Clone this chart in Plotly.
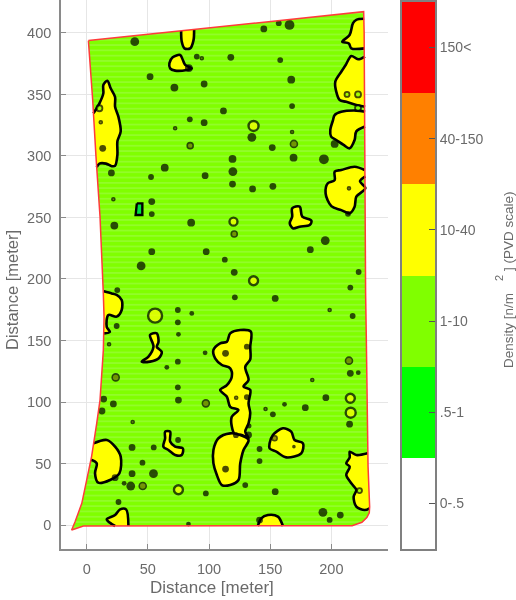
import plotly.graph_objects as go

# ---- colour classes -------------------------------------------------------
class_labels = ["0-.5", ".5-1", "1-10", "10-40", "40-150", "150<"]
class_colors = ["#ffffff", "#00ff00", "#80ff00", "#ffff00", "#ff8000", "#ff0000"]

# ---- tank outline (meters) ------------------------------------------------
outline_x = [1.4, 226.4, 226.8, 227.2, 228, 228.6, 229, 230, 231.3, 231, 229, 225, 217, -2.7, -12.3, -9.5, -4, 0.5, 4, 8.2, 10.9, 13.6, 14.2, 13.6, 10.9, 7.6, 4.9, 1.4]
outline_y = [393.8, 417.3, 400, 291, 188, 150, 101.6, 47.4, 14.9, 10, 6, 2.2, -0.5, -0.8, -4, 2.7, 17.6, 39, 55.6, 82.7, 101.6, 142, 169, 188, 250.7, 299.5, 345.5, 393.8]

# ---- density patches touching the outline (open contour) ------------------
a_x = [77.2, 77.7, 79.9, 84.6, 87.3, 87.8]
a_y = [401.5, 393, 387.5, 387.5, 394, 402.5]
c_x = [5.5, 10.4, 13.6, 13.6, 16.9, 19.6, 23.2, 23.2, 25.9, 27.8, 25.1, 25.1, 23.2, 20.5, 15.8, 10.4, 8.2]
c_y = [334.6, 342.8, 350.9, 357.7, 361.2, 355, 348, 340, 332, 320, 312, 301, 292, 291.7, 293.8, 293.8, 291]
d_x = [226.8, 220.4, 217.7, 214.9, 208.9, 214.3, 216.3, 227.2]
d_y = [411.5, 410.7, 408, 398.3, 392.9, 391.5, 387.5, 387.5]
e_x = [227.5, 221.8, 216.3, 211.7, 208.1, 203.2, 204, 206.8, 212.2, 220.4, 227.6]
e_y = [380.8, 378.6, 381.3, 373.9, 368.5, 360.4, 352.3, 345.5, 344, 341.5, 340]
f_x = [227.6, 220.4, 208.1, 202.7, 201.3, 199.1, 199.8, 204, 210, 214.9, 219, 220.4, 227.5]
f_y = [336, 336.9, 335.9, 333.3, 329, 321, 315.7, 313, 309, 306.2, 313, 320, 324]
g_x = [227.2, 219, 208.1, 202.7, 202.7, 197.1, 195.3, 200, 208.1, 214.9, 219, 220.4, 227.8, 223.4, 227.8]
g_y = [288.6, 291.3, 288.6, 287.3, 280.4, 277.8, 269.5, 259.2, 256, 253.4, 258.8, 266.9, 273.8, 279.5, 283.5]
i_x = [14, 20.5, 24.5, 28.6, 28.6, 24.5, 17.7, 16.4, 19, 14.2]
i_y = [190, 188.3, 187, 183, 174.8, 169.4, 170.7, 161, 157, 155.8]
n_x = [5.6, 16.4, 23.2, 27.8, 26.7, 19.1, 9.5, 6.8, 8.2, 3.6]
n_y = [66.4, 69.1, 63.7, 55.6, 42, 36.6, 34.4, 42, 50.1, 53]
o_x = [34.1, 32.2, 27.3, 23.2, 16.4, 20.5, 23.2]
o_y = [-0.8, 12.7, 12.7, 8.1, 4.6, 0.8, -0.8]
s_x = [229.6, 220.4, 215, 215, 212.2, 215, 212.2, 216.3, 220.4, 218.2, 220.4, 227.2, 231.2]
s_y = [58.3, 56.9, 59.6, 55, 50.1, 47.4, 40.7, 33.9, 28.5, 23, 14.9, 12.2, 13.6]
t_x = [160.4, 156.3, 148.1, 142.7, 139.9]
t_y = [-0.8, 6.8, 8.1, 5.4, -0.8]

# ---- density patches in the open field (closed contour) -------------------
b_x = [67.6, 70.3, 76.4, 78.6, 80.5, 85.9, 81.8, 72.3, 68.2]
b_y = [375.3, 380.2, 382.1, 378, 374, 371.2, 369.9, 369.4, 371.2]
h_x = [168, 174.1, 176.2, 183.7, 182.3, 174.1, 168.6, 166, 168]
h_y = [257.5, 258.8, 250.7, 247.4, 243.9, 242.5, 241.2, 245.3, 250.7]
k_x = [51.8, 57.3, 58.7, 57.3, 61.4, 58.7, 51.8, 45, 50.5, 54.6]
k_y = [154.5, 155.8, 148.8, 144.8, 140.7, 135.3, 132.8, 132.8, 136.9, 145]
l_x = [117.3, 125.5, 134.2, 133.7, 133.7, 129.6, 132.3, 128.2, 133.7, 132.3, 133.7, 132.3, 129.6, 132.3, 126.8, 121.4, 118.6, 118.6, 124, 117.3, 114.6, 109.1, 114.6, 118.6, 117.3, 110.5, 105, 103.6, 109.1, 114.6]
l_y = [155.8, 158.5, 157.2, 145, 134.7, 128.5, 117.9, 112.5, 109.8, 98.9, 91, 82.7, 75.9, 70.5, 73.2, 73.2, 80, 88, 93.5, 96.1, 104.3, 109.8, 113.8, 120.6, 127.4, 130.1, 135.5, 142.3, 147.7, 149]
m_x = [117.3, 125.5, 132.3, 128.2, 125.5, 124.1, 117.3, 110.5, 106.4, 103.6, 103.6, 107.7]
m_y = [74.5, 73.2, 69.1, 61, 50, 36.6, 32.5, 32.5, 40.7, 50.1, 61, 70.5]
p_x = [64.1, 68.2, 68.2, 72.3, 78.6, 77.7, 72.3, 66.8, 62.7, 64.1]
p_y = [75.9, 75.9, 67.8, 63.7, 62.3, 56.9, 56.9, 61, 63.7, 70.5]
r_x = [149.5, 152.2, 160.4, 167.2, 169.9, 176.8, 175.4, 163.1, 155, 149.5]
r_y = [66.4, 73.2, 78.6, 75.9, 69.1, 66.4, 58.3, 55, 59.6, 62.3]
# low-density patch (.5-1 class)
q_x = [41, 45.5, 45.5, 40]
q_y = [261.5, 261.5, 252, 252]

open_patches = [(a_x, a_y), (c_x, c_y), (d_x, d_y), (e_x, e_y), (f_x, f_y), (g_x, g_y),
                (i_x, i_y), (n_x, n_y), (o_x, o_y), (s_x, s_y), (t_x, t_y)]
closed_patches = [(b_x, b_y), (h_x, h_y), (k_x, k_y), (l_x, l_y), (m_x, m_y), (p_x, p_y), (r_x, r_y)]

# ---- small solid spots ----------------------------------------------------
spot_x = [39.3, 90, 117.8, 83.5, 51.8, 71.7, 96, 111.8, 84.3, 96, 135, 119.2, 119.5, 96.8, 63.8, 52.6, 20.2, 119.2, 135.6, 53.2, 53.2, 22.6, 85.4, 53.2, 97.7, 112.9, 44.5, 120.6, 121.1, 25,
          144.8, 165.8, 157, 158.2, 167.2, 167.9, 151.7, 169.1, 193.9, 152.2, 195, 182.8, 222.3, 215.5, 154.1, 202.7, 213.6,
          217.4, 215.5, 222, 195.5, 178.7, 161.7, 152.2, 141.3, 141.3, 154.1, 193.1, 198.6, 207.3,
          74.5, 85.9, 74.5, 75, 96.8, 74.5, 65.5, 24.5, 74.5, 75, 13.9, 21.8, 12.5, 37.1, 54.8, 74.7, 45.6, 37.1, 54.6, 36, 30.6, 97.4, 129.6, 132.8, 23.2, 26, 83.2, 141.3,
          113.5, 130.9, 130.9, 113.5, 122, 132.3, 13.1, 214.9]
spot_y = [392.9, 380.8, 380.2, 371.5, 364.5, 355.6, 358.5, 336.6, 329.8, 327.1, 315.2, 297.6, 287.3, 284, 290.5, 282.9, 286.2, 277.2, 273.2, 262.9, 252.8, 243.4, 245.8, 222.2, 222.2, 215.7, 210.6, 205.4, 185.1, 191,
          403.3, 406.5, 408, 378, 362, 340.6, 306.8, 298.6, 297.3, 275.3, 231.2, 223.8, 205.7, 193, 184.2, 309.8, 253,
          169.9, 123.3, 123.8, 103.5, 95.4, 98.1, 90, 61.8, 52, 27.1, 10.3, 4.1, 8.1,
          174.8, 172, 164.8, 155, 140, 132.8, 128.2, 161.8, 111.9, 101.6, 102.4, 98.4, 92.7, 63.1, 63.1, 69.1, 50.7, 41.7, 41.7, 31.7, 33.9, 25.7, 32.5, 80.5, 38.5, 18.7, 0.8, 4,
          139.6, 145, 104, 45.5, 73, 73.2, 306.2, 82]
spot_s = [7, 4, 5, 6, 5, 6, 5, 5, 4, 5, 7, 6, 7, 5, 6, 4, 5, 5, 5, 5, 4, 6, 6, 5, 5, 4, 7, 5, 4, 4,
          5, 8, 4, 4, 6, 4, 5, 6, 8, 5, 7, 5, 4, 4, 5, 6, 4,
          4, 5, 3, 5, 5, 3, 4, 4, 4, 5, 7, 4, 5,
          4, 3, 4, 3, 3, 4, 3, 4, 4, 5, 5, 5, 5, 5, 4, 4, 4, 5, 7, 7, 3, 4, 4, 3, 5, 4, 3, 5,
          5, 4, 4, 5, 4, 5, 5, 5]

# ---- olive-centred small spots ---------------------------------------------
olive_x = [94.1, 72.3, 84.6, 21.8, 214.4, 198.6, 184.4, 146.2, 37.6, 122.2, 11.5, 167.9, 18.3, 169.4, 23.7, 97.4, 120.6, 169.4, 214.4, 45.8, 153.6]
olive_y = [379.4, 322.5, 308.4, 264.8, 273.7, 174.8, 117.9, 94.3, 83.7, 103.5, 327.4, 319.5, 146.9, 309.8, 120, 98.9, 236.6, 63.7, 133.6, 31.7, 70.5]
olive_s = [3, 3, 6, 3, 3, 3, 3, 3, 3, 3, 3, 3, 3, 7, 7, 7, 6, 2, 7, 7, 5]

# ---- ringed yellow spots ----------------------------------------------------
ring_x = [136.4, 120, 136.4, 55.9, 75, 215.5, 215.8]
ring_y = [324.4, 246.6, 198.6, 170.2, 28.7, 103, 91.3]
ring_s = [10, 8, 9, 14, 9, 9, 10]

# ---- ringed green spots inside patches ---------------------------------------
hole_x = [10.4, 212.8, 221.8, 223, 221.8]
hole_y = [338.8, 350, 350, 28, 339]
hole_s = [6, 5, 6, 5, 6]

# ---- axis ticks -------------------------------------------------------------
x_ticks = [0, 50, 100, 150, 200]
y_ticks = [0, 50, 100, 150, 200, 250, 300, 350, 400]

TXT = "#6a6a6a"
FONT = "Liberation Sans"
GREEN = class_colors[2]
YELLOW = class_colors[3]

fig = go.Figure()

# field
fig.add_trace(go.Scatter(
    x=outline_x, y=outline_y, mode="none", fill="toself", hoverinfo="skip",
    fillcolor=GREEN,
    fillpattern=dict(shape="-", size=5.3, solidity=0.25, fgcolor="#b0f870", bgcolor=GREEN),
))

contour = dict(color="#000000", width=2.6, shape="spline", smoothing=0.9)

for px, py in open_patches:
    fig.add_trace(go.Scatter(x=px, y=py, mode="lines", fill="toself", fillcolor=YELLOW,
                             line=dict(color="rgba(0,0,0,0)", width=0, shape="spline", smoothing=0.9),
                             hoverinfo="skip"))
    fig.add_trace(go.Scatter(x=px, y=py, mode="lines", line=contour, hoverinfo="skip"))

for px, py in closed_patches:
    fig.add_trace(go.Scatter(x=px + px[:1], y=py + py[:1], mode="lines", fill="toself",
                             fillcolor=YELLOW, line=contour, hoverinfo="skip"))

fig.add_trace(go.Scatter(x=q_x + q_x[:1], y=q_y + q_y[:1], mode="lines", fill="toself",
                         fillcolor="#00e040", line=dict(color="#000000", width=2.4), hoverinfo="skip"))

fig.add_trace(go.Scatter(x=spot_x, y=spot_y, mode="markers", hoverinfo="skip",
                         marker=dict(color="#000000", size=[v + 1.8 for v in spot_s], line=dict(width=0))))
fig.add_trace(go.Scatter(x=olive_x, y=olive_y, mode="markers", hoverinfo="skip",
                         marker=dict(color="#6a6a00", size=olive_s, line=dict(color="#000000", width=1.6))))
fig.add_trace(go.Scatter(x=ring_x, y=ring_y, mode="markers", hoverinfo="skip",
                         marker=dict(color=YELLOW, size=ring_s, line=dict(color="#000000", width=2.4))))
fig.add_trace(go.Scatter(x=hole_x, y=hole_y, mode="markers", hoverinfo="skip",
                         marker=dict(color=GREEN, size=hole_s, line=dict(color="#000000", width=1.8))))

fig.add_trace(go.Scatter(x=outline_x, y=outline_y, mode="lines", hoverinfo="skip",
                         line=dict(color="#ff3b3b", width=1.5)))

# colour key
fig.add_trace(go.Heatmap(
    z=[[i] for i in range(len(class_labels))],
    x=[0], y=class_labels, xaxis="x2", yaxis="y2", showscale=False, hoverinfo="skip",
    zmin=0, zmax=5,
    colorscale=[[i / 5, c] for i, c in enumerate(class_colors)],
    xgap=0, ygap=0,
))

W, H = 516, 600
fig.update_layout(
    width=W, height=H, margin=dict(l=0, r=0, t=0, b=0),
    paper_bgcolor="#ffffff", plot_bgcolor="#ffffff", showlegend=False,
    font=dict(family=FONT, color=TXT, size=14),
    xaxis=dict(domain=[61 / W, 388 / W], range=[-21, 246.3], anchor="y",
               tickvals=x_ticks, ticks="inside", ticklen=5, tickcolor="#8a8a8a",
               showline=True, linecolor="#8a8a8a", linewidth=1.6,
               showgrid=True, gridcolor="#e6e6e6", gridwidth=1, zeroline=False,
               tickfont=dict(size=14.5, color=TXT), ticklabelstandoff=6),
    yaxis=dict(domain=[51 / H, 1], range=[-19.5, 426.8], anchor="x",
               tickvals=y_ticks, ticks="inside", ticklen=5, tickcolor="#8a8a8a",
               showline=True, linecolor="#8a8a8a", linewidth=1.6,
               showgrid=True, gridcolor="#e6e6e6", gridwidth=1, zeroline=False,
               tickfont=dict(size=14.5, color=TXT), ticklabelstandoff=5),
    xaxis2=dict(domain=[402 / W, 435 / W], anchor="y2", showticklabels=False, ticks="",
                showgrid=False, zeroline=False, showline=True, mirror=True,
                linecolor="#808080", linewidth=2),
    yaxis2=dict(domain=[51 / H, 598 / H], anchor="x2", side="right", type="category",
                categoryorder="array", categoryarray=class_labels,
                ticks="inside", ticklen=6, tickcolor="#555555", showgrid=False, zeroline=False,
                showline=True, mirror=True, linecolor="#808080", linewidth=2,
                tickfont=dict(size=14, color=TXT), ticklabelstandoff=0),
    annotations=[
        dict(text="Distance [meter]", xref="paper", yref="paper", x=212 / W, y=1 - 587 / H,
             showarrow=False, font=dict(size=17, color=TXT), xanchor="center", yanchor="middle"),
        dict(text="Distance [meter]", xref="paper", yref="paper", x=12 / W, y=1 - 290 / H,
             showarrow=False, font=dict(size=16.5, color=TXT), textangle=-90, xanchor="center", yanchor="middle"),
        dict(text="Density [n/m", xref="paper", yref="paper", x=508 / W, y=1 - 331 / H,
             showarrow=False, font=dict(size=13.5, color=TXT), textangle=-90, xanchor="center", yanchor="middle"),
        dict(text="2", xref="paper", yref="paper", x=499 / W, y=1 - 278 / H,
             showarrow=False, font=dict(size=11, color=TXT), textangle=-90, xanchor="center", yanchor="middle"),
        dict(text="] (PVD scale)", xref="paper", yref="paper", x=508 / W, y=1 - 231 / H,
             showarrow=False, font=dict(size=13.5, color=TXT), textangle=-90, xanchor="center", yanchor="middle"),
    ],
)

fig.write_html("out.html", config=dict(displayModeBar=False),
               post_script="document.body.style.margin='0';"
                           "document.querySelector('.plotly-graph-div').style.filter='blur(0.6px)';")
